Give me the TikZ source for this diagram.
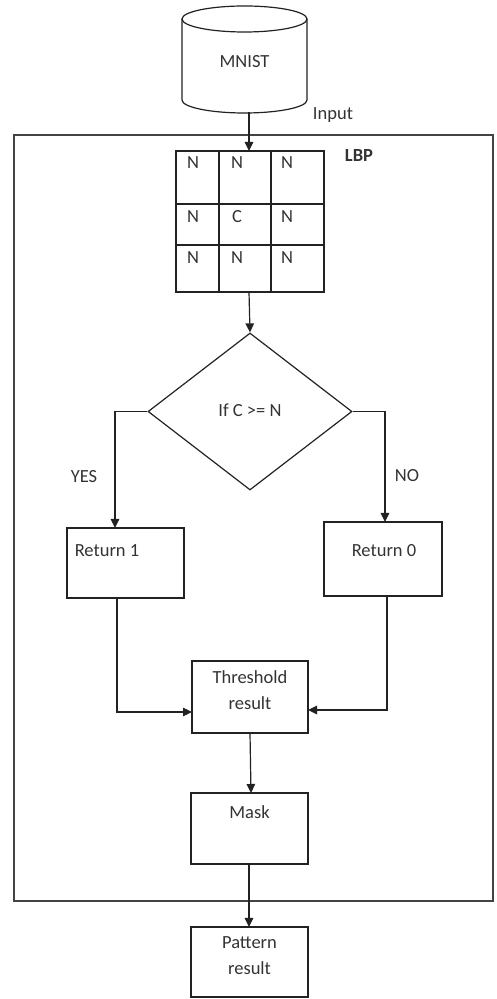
\documentclass[tikz,border=0pt]{standalone}
\usepackage{fontspec}
\setmainfont{Carlito}
\usetikzlibrary{arrows.meta,shapes.geometric}
\definecolor{txtc}{HTML}{333333}
\definecolor{linec}{HTML}{222222}
\tikzset{
  box/.style={draw=linec, line width=1.2pt, rectangle, inner sep=0pt},
  txt/.style={inner sep=0pt, text=txtc, font=\fontsize{18.5pt}{26pt}\selectfont},
  conn/.style={draw=linec, line width=1.2pt, -{Triangle[length=9pt,width=8.5pt]}},
  plain/.style={draw=linec, line width=1.2pt},
  frame/.style={draw=linec!85, line width=1.2pt}
}
\begin{document}
\begin{tikzpicture}[x=1pt,y=1pt]
\useasboundingbox (0,0) rectangle (497,999);
% frame
\draw[frame] (14,864) -- (493,864) -- (493,98) -- (14,98) -- cycle;
% cylinder
\draw[plain, fill=white] (182,980) -- (182,899) arc[start angle=180, end angle=360, x radius=62.5pt, y radius=13pt] -- (307,980);
\draw[plain] (244.5,980) ellipse[x radius=62.5pt, y radius=13pt];
\node[txt] (mnist) at (244.5,937) {MNIST};
\coordinate (cylb) at (249,886.5);
\node[txt] (input) at (333,884) {Input};
\node[txt, font=\fontsize{18.5pt}{22pt}\selectfont\bfseries] (lbp) at (359,843) {LBP};
% grid
\node[box, minimum width=148pt, minimum height=141pt] (grid) at (250,777.5) {};
\draw[plain] (219,848) -- (219,707) (271,848) -- (271,707) (176,795) -- (324,795) (176,754) -- (324,754);
\foreach \yy/\mm in {836/N,782/C,741/N}{
  \node[txt] at (193,\yy) {N};
  \node[txt] at (237,\yy) {\mm};
  \node[txt] at (287,\yy) {N};
}
\draw[conn] (cylb) -- (249,848);
% diamond
\node[diamond, draw=linec, line width=1.2pt, minimum width=204pt, minimum height=157pt, inner sep=0pt] (dec) at (250,587.5) {};
\node[txt] (dect) at (250,589) {If C >= N};
\draw[conn] (249,707) -- (dec.north);
% return boxes
\node[box, minimum width=117pt, minimum height=70pt] (r1) at (125.5,436) {};
\node[txt] (r1t) at (107,448) {Return 1};
\node[box, minimum width=118pt, minimum height=74pt] (r0) at (383,440) {};
\node[txt] (r0t) at (384,448) {Return 0};
\draw[conn] (dec.west) -- (115,587.5) -- (115,471);
\draw[conn] (dec.east) -- (385,587.5) -- (385,477);
\node[txt] (yes) at (84,522) {YES};
\node[txt] (no) at (407,523) {NO};
% threshold
\node[box, minimum width=116pt, minimum height=72pt] (thr) at (250,302) {};
\node[txt, align=center] (thrt) at (250,309) {Threshold\\result};
\draw[conn] (117,401) -- (117,287) -- (192,287);
\draw[conn] (387,403) -- (387,289) -- (308,289);
% mask
\node[box, minimum width=117pt, minimum height=71pt] (mask) at (249.5,170.5) {};
\node[txt] (maskt) at (249.5,187) {Mask};
\draw[conn] (250,266) -- (251,206);
% pattern
\node[box, minimum width=117pt, minimum height=70pt] (pat) at (249.5,37) {};
\node[txt, align=center] (patt) at (249.5,43) {Pattern\\result};
\draw[conn] (249,135) -- (249,72);
\end{tikzpicture}
\end{document}
